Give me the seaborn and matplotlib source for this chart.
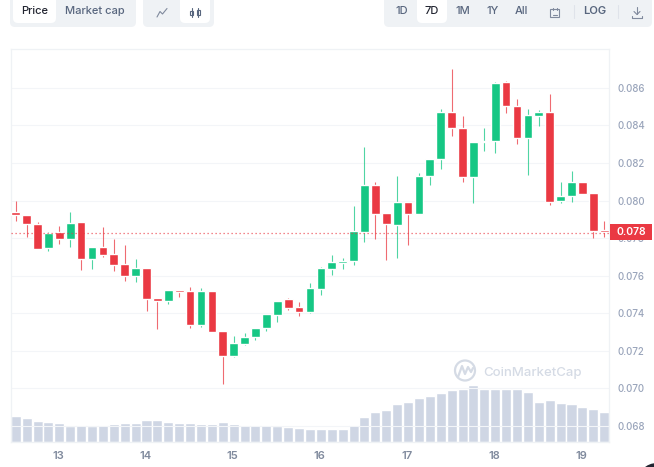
import numpy as np
import pandas as pd
import seaborn as sns
from matplotlib import pyplot as plt
from matplotlib.lines import Line2D
from matplotlib.patches import Circle, FancyBboxPatch, Rectangle

# 3h candles, values
first_candle = 12.515
candle_step = 0.125

opens = [.07939, .07925, .07877, .07748, .07831, .07796, .07886, .07688, .07752, .07714, .07661,
         .07596, .07642, .07480, .07466, .07523, .07517, .07337, .07517, .07304, .07173, .07238,
         .07274, .07320, .07393, .07474, .07431, .07408, .07532, .07638, .07670, .07677, .07832,
         .08082, .07934, .07872, .07991, .07931, .08132, .08219, .08469, .08387, .08127, .08311,
         .08315, .08631, .08506, .08332, .08453, .08474, .07998, .08023, .08100, .08039, .07846]
closes = [.07922, .07874, .07744, .07828, .07798, .07881, .07688, .07752, .07711, .07658, .07596,
          .07642, .07477, .07466, .07523, .07514, .07337, .07517, .07303, .07171, .07242, .07276,
          .07323, .07396, .07467, .07426, .07408, .07536, .07642, .07674, .07679, .07837, .08082,
          .07929, .07878, .07995, .07929, .08131, .08221, .08469, .08385, .08127, .08311, .08316,
          .08626, .08506, .08332, .08458, .08472, .07992, .08024, .08100, .08035, .07840, .07831]
highs = [.07996, .07925, .07888, .07833, .07865, .07939, .07886, .07752, .07861, .07798, .07766,
         .07689, .07642, .07480, .07523, .07526, .07542, .07537, .07517, .07304, .07277, .07295,
         .07323, .07396, .07467, .07484, .07458, .07559, .07645, .07713, .07695, .07972, .08286,
         .08100, .07934, .08130, .07991, .08148, .08223, .08485, .08702, .08449, .08313, .08387,
         .08630, .08635, .08541, .08488, .08481, .08569, .08100, .08157, .08100, .08042, .07893]
lows = [.07892, .07806, .07744, .07730, .07769, .07753, .07633, .07638, .07700, .07626, .07572,
        .07567, .07413, .07314, .07452, .07487, .07322, .07328, .07303, .07022, .07170, .07233,
        .07260, .07304, .07354, .07420, .07385, .07403, .07500, .07603, .07638, .07656, .07780,
        .07793, .07686, .07695, .07764, .07931, .08083, .08169, .08343, .08099, .07989, .08263,
        .08251, .08467, .08299, .08136, .08396, .07977, .07989, .07992, .08033, .07803, .07808]
volume = [26.3, 24.3, 21, 20, 19.3, 16.3, 17.3, 16.3, 17.3, 18.3, 19.3, 19.3, 22, 22, 20.3, 19.3,
          19.3, 18.3, 18.3, 20.3, 18.3, 17.3, 17.3, 17.3, 16.3, 15.3, 13.7, 12.7, 12.7, 13.3, 13.3,
          17, 25, 30.3, 32, 37.7, 40.3, 44, 46.3, 49, 52, 53, 57.3, 53, 53, 53, 53, 50.3, 40.3, 42,
          38.7, 37.7, 35, 33, 30.3]
price_ticks = [.068, .070, .072, .074, .076, .078, .080, .082, .084, .086]
day_ticks = [13, 14, 15, 16, 17, 18, 19]
last_price = .0783

GREEN = '#16c784'
RED = '#ea3943'
PILL = '#eff2f5'
W, H = 654, 467

sns.set_theme(style='white')
plt.rcParams['font.family'] = ['Inter', 'DejaVu Sans']

df = pd.DataFrame({'x': first_candle + np.arange(len(opens)) * candle_step,
                   'open': opens, 'close': closes, 'high': highs, 'low': lows, 'vol': volume})
df['color'] = np.where(df['close'] >= df['open'], GREEN, RED)

fig = plt.figure(figsize=(W / 100, H / 100), dpi=100, facecolor='white')
rect = [10.5 / W, 1 - 442 / H, (609 - 10.5) / W, (442 - 49) / H]

# volume goes underneath, in its own axes
ax_vol = fig.add_axes(rect, zorder=1)
sns.barplot(data=df, x='x', y='vol', native_scale=True, color='#cfd6e4', saturation=1,
            width=0.92, ax=ax_vol)
ax_vol.set_ylim(0, 393)
ax_vol.axis('off')

ax = fig.add_axes(rect, zorder=2, sharex=ax_vol)
ax.patch.set_visible(False)
ax.vlines(df['x'], df['low'], df['high'], colors=df['color'], lw=0.8, alpha=0.75, zorder=3)
ax.bar(df['x'], (df['close'] - df['open']).abs(), bottom=df[['open', 'close']].min(axis=1),
       width=0.1, color=df['color'], zorder=4)
ax.axhline(last_price, color=RED, lw=0.9, ls=(0, (1, 2.2)), alpha=0.8, zorder=5)

ax.set_xlim(12.455, 19.32)
ax.set_ylim(.06715, .08807)
ax.set_xticks(day_ticks)
ax.set_xticklabels([str(d) for d in day_ticks], fontsize=8, fontweight='semibold', color='#808a9d')
ax.yaxis.tick_right()
ax.set_yticks(price_ticks)
ax.set_yticklabels(['%.3f' % p for p in price_ticks], fontsize=7, fontweight='medium', color='#9aa5bb')
ax.tick_params(axis='x', length=0, pad=6.5)
ax.tick_params(axis='y', length=0, pad=6)
ax.grid(axis='y', color='#f3f5f8', lw=0.8)
ax.set_axisbelow(True)
for s in ax.spines.values():
    s.set_color('#eff2f5')
    s.set_linewidth(0.9)

# toolbar and overlays, in pixel coordinates
over = fig.add_axes([0, 0, 1, 1], zorder=3)
over.set_xlim(0, W)
over.set_ylim(H, 0)
over.axis('off')


def pill(x0, x1, y0, y1, color, r=5):
    over.add_patch(FancyBboxPatch((x0 + r, y0 + r), x1 - x0 - 2 * r, y1 - y0 - 2 * r,
                                  boxstyle='round,pad=%d,rounding_size=%d' % (r, r),
                                  fc=color, ec='none', clip_on=True))


def label(x, txt, color='#58667e', weight='medium'):
    over.text(x, 11.5, txt, ha='center', va='center', fontsize=8, color=color, fontweight=weight)


def stroke(xs, ys, color='#808a9d', lw=0.8):
    over.add_line(Line2D(xs, ys, color=color, lw=lw, solid_capstyle='round'))


pill(10, 136, -8, 27, PILL)
pill(13, 56, -8, 23, 'white')
pill(143, 214, -8, 27, PILL)
pill(180, 210, -8, 23, 'white')
pill(384, 652, -8, 27, PILL)
pill(417, 447, -8, 23, 'white')

label(34.6, 'Price', '#222531', 'medium')
label(95, 'Market cap')
label(402, '1D')
label(432, '7D', '#222531')
label(462.5, '1M')
label(492.5, '1Y')
label(521.7, 'All')
label(595, 'LOG', '#58667e', 'semibold')

# line / candle icons
stroke([157, 160, 162.5, 167], [17, 11.5, 14, 8.5])
stroke([191.7, 191.7], [8, 17], '#58667e')
stroke([198, 198], [8, 17], '#58667e')
over.add_patch(Rectangle((190.2, 10.5), 3, 4, fc='white', ec='#58667e', lw=0.8))
over.add_patch(Rectangle((196.5, 10), 3, 4.5, fc='white', ec='#58667e', lw=0.8))
# calendar
over.add_patch(Rectangle((550, 9), 9, 8, fc='none', ec='#808a9d', lw=0.8))
stroke([552.5, 552.5], [7.5, 10])
stroke([556.5, 556.5], [7.5, 10])
stroke([552.5, 556.5], [14.5, 14.5])
# separators
stroke([573.7, 573.7], [5, 18], '#dfe3ea')
stroke([617.7, 617.7], [5, 18], '#dfe3ea')
# download
stroke([637, 637], [7, 14])
stroke([634, 637, 640], [11.5, 14.5, 11.5])
stroke([632, 632, 642, 642], [15.5, 17.5, 17.5, 15.5])

# last price tag
over.add_patch(Rectangle((610, 223.5), 42, 16.5, fc=RED, ec='none'))
over.text(631, 232, '0.078', ha='center', va='center', color='white', fontsize=7.5, fontweight='semibold')

# watermark
over.add_patch(Circle((465, 370.5), 10, fc='none', ec='#d5dbe5', lw=1.6))
stroke([458, 462, 465, 468, 471, 473], [377, 366, 374, 367, 372, 368], '#d5dbe5', 1.6)
over.text(483, 373, 'CoinMarketCap', ha='left', va='center', fontsize=9.5, color='#d5dbe5', fontweight='medium')

# dark chat bubble cut off in the corner
over.add_patch(Circle((657, 483), 20, fc='#222531', ec='none'))

fig.savefig('out.png', dpi=100)
